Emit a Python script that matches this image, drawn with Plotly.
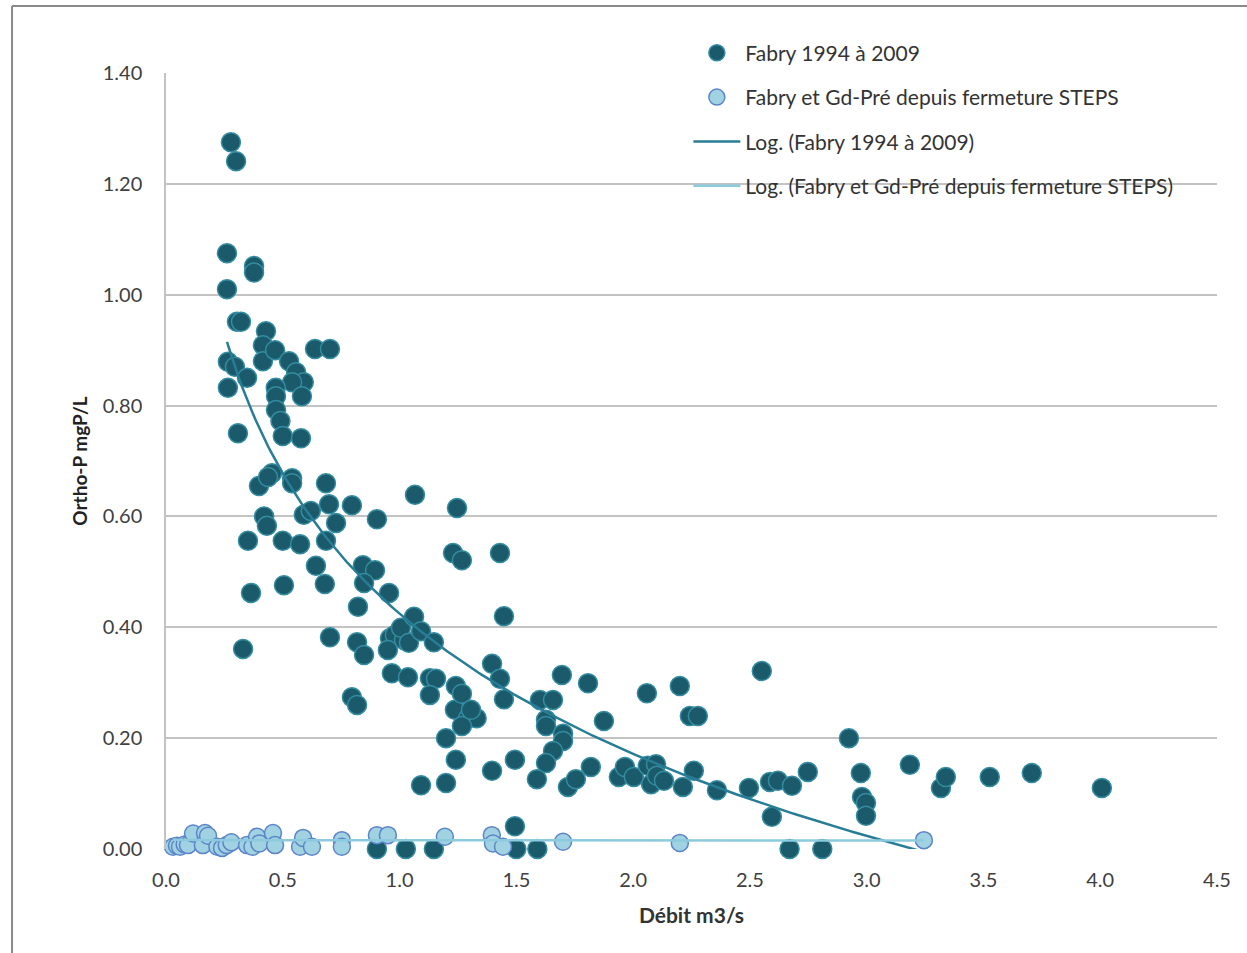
import numpy as np
import plotly.graph_objects as go

# --- Data ---
fabry_x = [0.278, 0.300, 0.261, 0.261, 0.377, 0.377, 0.304, 0.321, 0.265, 0.295,
           0.265, 0.347, 0.308, 0.428, 0.415, 0.415, 0.467, 0.527, 0.557, 0.590,
           0.540, 0.470, 0.471, 0.582, 0.471, 0.490, 0.500, 0.578, 0.638, 0.702,
           0.398, 0.454, 0.437, 0.540, 0.540, 0.420, 0.432, 0.351, 0.364, 0.330,
           0.500, 0.574, 0.505, 0.590, 0.620, 0.642, 0.680, 0.685, 0.698, 0.728,
           0.685, 0.702, 0.796, 0.843, 0.895, 0.848, 0.822, 0.818, 0.848, 0.796,
           0.818, 0.903, 0.955, 0.959, 0.980, 0.950, 0.967, 1.019, 1.006, 1.040,
           1.066, 1.062, 1.092, 1.147, 1.036, 1.130, 1.156, 1.130, 1.199, 1.092,
           1.199, 1.237, 1.246, 1.229, 1.267, 1.241, 1.267, 1.293, 1.330, 1.267,
           1.241, 1.306, 1.430, 1.447, 1.396, 1.430, 1.447, 1.396, 1.494, 1.494,
           1.601, 1.657, 1.627, 1.627, 1.700, 1.700, 1.657, 1.627, 1.695, 1.807,
           1.875, 1.588, 1.721, 1.755, 1.819, 1.939, 1.965, 2.003, 2.063, 2.059,
           2.077, 2.098, 2.102, 2.132, 2.200, 2.213, 2.243, 2.277, 2.260, 2.359,
           2.496, 2.551, 2.586, 2.620, 2.594, 2.680, 2.748, 2.670, 2.810, 2.924,
           2.975, 2.980, 2.997, 2.997, 3.185, 3.318, 3.339, 3.527, 3.707, 4.007,
           0.903, 1.027, 1.147, 1.500, 1.590]
fabry_y = [1.275, 1.241, 1.075, 1.010, 1.052, 1.040, 0.951, 0.951, 0.879, 0.870,
           0.832, 0.850, 0.750, 0.934, 0.909, 0.880, 0.900, 0.880, 0.860, 0.842,
           0.842, 0.832, 0.817, 0.817, 0.792, 0.772, 0.745, 0.741, 0.902, 0.902,
           0.655, 0.678, 0.671, 0.669, 0.660, 0.600, 0.583, 0.556, 0.462, 0.361,
           0.556, 0.550, 0.476, 0.603, 0.610, 0.511, 0.478, 0.660, 0.622, 0.588,
           0.556, 0.382, 0.620, 0.512, 0.503, 0.480, 0.437, 0.373, 0.350, 0.274,
           0.260, 0.595, 0.462, 0.380, 0.386, 0.359, 0.317, 0.377, 0.399, 0.372,
           0.639, 0.419, 0.393, 0.373, 0.310, 0.308, 0.307, 0.278, 0.200, 0.115,
           0.119, 0.251, 0.615, 0.534, 0.521, 0.294, 0.280, 0.236, 0.236, 0.222,
           0.161, 0.251, 0.534, 0.420, 0.334, 0.307, 0.270, 0.141, 0.161, 0.041,
           0.269, 0.269, 0.233, 0.222, 0.208, 0.195, 0.177, 0.155, 0.314, 0.299,
           0.231, 0.126, 0.112, 0.126, 0.148, 0.130, 0.148, 0.130, 0.150, 0.281,
           0.117, 0.153, 0.132, 0.123, 0.294, 0.112, 0.240, 0.240, 0.141, 0.106,
           0.110, 0.321, 0.121, 0.123, 0.058, 0.114, 0.139, 0.000, 0.000, 0.200,
           0.137, 0.094, 0.083, 0.060, 0.152, 0.110, 0.130, 0.130, 0.137, 0.110,
           0.000, 0.000, 0.000, 0.000, 0.000]

steps_x = [0.030, 0.047, 0.060, 0.080, 0.094, 0.116, 0.158, 0.167, 0.180, 0.220,
           0.240, 0.260, 0.280, 0.347, 0.370, 0.390, 0.400, 0.458, 0.467, 0.574,
           0.587, 0.625, 0.753, 0.753, 0.903, 0.950, 1.194, 1.395, 1.400, 1.443,
           1.700, 2.200, 3.245]
steps_y = [0.004, 0.006, 0.004, 0.008, 0.007, 0.028, 0.007, 0.029, 0.024, 0.004,
           0.002, 0.007, 0.012, 0.007, 0.004, 0.022, 0.010, 0.029, 0.007, 0.004,
           0.020, 0.004, 0.016, 0.004, 0.025, 0.025, 0.022, 0.025, 0.010, 0.004,
           0.013, 0.011, 0.016]

# Logarithmic trendline coefficients (y = a*ln(x) + b)
trend_fabry = (-0.365, 0.4245)
trend_steps = (-0.0003, 0.0155)

x_ticks = [0.0, 0.5, 1.0, 1.5, 2.0, 2.5, 3.0, 3.5, 4.0, 4.5]
y_ticks = [0.0, 0.2, 0.4, 0.6, 0.8, 1.0, 1.2, 1.4]

names = ["Fabry 1994 à 2009", "Fabry et Gd-Pré depuis fermeture STEPS",
         "Log. (Fabry 1994 à 2009)", "Log. (Fabry et Gd-Pré depuis fermeture STEPS)"]

DARK = "rgb(27,90,107)"
DARK_EDGE = "rgb(52,140,160)"
LIGHT = "rgb(160,210,226)"
LIGHT_EDGE = "rgb(92,132,200)"
DARK_LINE = "rgb(40,125,150)"
LIGHT_LINE = "rgb(140,202,222)"

def trend(xs, coef):
    xx = np.linspace(min(xs), max(xs), 300)
    return xx, coef[0] * np.log(xx) + coef[1]

fig = go.Figure()
fig.add_trace(go.Scatter(x=fabry_x, y=fabry_y, mode="markers", name=names[0],
                         legendgroup="a", cliponaxis=False,
                         marker=dict(size=19, color=DARK, line=dict(color=DARK_EDGE, width=1.5))))
fig.add_trace(go.Scatter(x=steps_x, y=steps_y, mode="markers", name=names[1],
                         legendgroup="b", cliponaxis=False,
                         marker=dict(size=17, color=LIGHT, line=dict(color=LIGHT_EDGE, width=1.5))))
tx, ty = trend(fabry_x, trend_fabry)
fig.add_trace(go.Scatter(x=tx, y=ty, mode="lines", name=names[2], legendgroup="c",
                         line=dict(color=DARK_LINE, width=2.5)))
tx2, ty2 = trend(steps_x, trend_steps)
fig.add_trace(go.Scatter(x=tx2, y=ty2, mode="lines", name=names[3], legendgroup="d",
                         line=dict(color=LIGHT_LINE, width=2.5)))

FONT = "Lato"
fig.update_layout(
    width=1247, height=953,
    margin=dict(l=166, r=30, t=73, b=104),
    paper_bgcolor="white", plot_bgcolor="white",
    font=dict(family=FONT, color="#404040"),
    showlegend=True,
    legend=dict(x=0.497, y=1.052, xanchor="left", yanchor="top",
                bgcolor="rgba(0,0,0,0)", font=dict(size=21, color="#333333"),
                itemwidth=47, tracegroupgap=14, traceorder="grouped"),
    xaxis=dict(range=[0, 4.5], tickvals=x_ticks,
               ticktext=[f"{v:.1f}" for v in x_ticks],
               showgrid=False, zeroline=False, showline=False,
               ticks="", ticklabelstandoff=17,
               tickfont=dict(size=20, color="#404040"),
               title=dict(text="<b>Débit m3/s</b>", font=dict(size=21, color="#333333"), standoff=18)),
    yaxis=dict(range=[0, 1.4], tickvals=y_ticks,
               ticktext=[f"{v:.2f}" for v in y_ticks],
               showgrid=True, gridcolor="#c3c3c3", gridwidth=1.5,
               zeroline=False, showline=True, linecolor="#c3c3c3", linewidth=1.5,
               ticks="", ticklabelstandoff=18,
               tickfont=dict(size=20, color="#404040"),
               title=dict(text="<b>Ortho-P mgP/L</b>", font=dict(size=19, color="#222222"), standoff=10)),
    shapes=[
        dict(type="line", xref="paper", yref="paper", x0=-0.1465, x1=1.04, y0=1.0863, y1=1.0863,
             line=dict(color="#8a8a8a", width=2)),
        dict(type="line", xref="paper", yref="paper", x0=-0.1465, x1=-0.1465, y0=-0.14, y1=1.0863,
             line=dict(color="#8a8a8a", width=2)),
    ],
)

fig.write_html("out.html")
